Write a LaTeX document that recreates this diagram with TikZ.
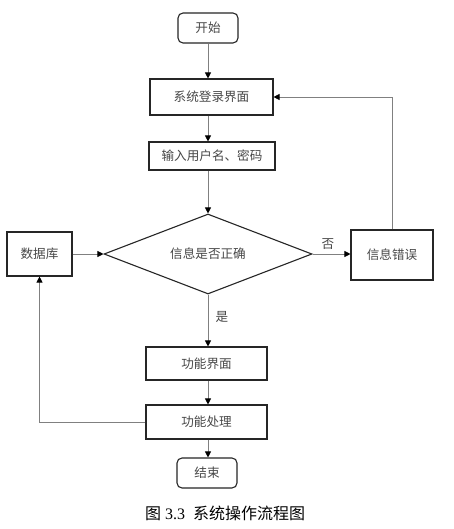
\documentclass[tikz,border=0pt]{standalone}
\usepackage{fontspec}
\setmainfont{Liberation Serif}
\newfontfamily\cjk{Noto Sans CJK SC}
\usetikzlibrary{shapes.geometric,arrows.meta}
\begin{document}
\begin{tikzpicture}[x=1pt,y=-1pt,
  box/.style={draw=black!85,line width=1.1pt,inner sep=0pt,text=black!72,font=\cjk\fontsize{12.6}{14}\selectfont},
  term/.style={box,rounded corners=5pt},
  flow/.style={draw=black!50,line width=0.8pt,-{Triangle[length=6pt,width=6pt,color=black]}},
  lbl/.style={text=black!72,font=\cjk\fontsize{12.6}{14}\selectfont}]
\useasboundingbox (0,0) rectangle (453,529);
\fill[white] (0,0) rectangle (453,529);
\node[term,minimum width=60pt,minimum height=30pt] (start) at (208,28) {开始};
\node[box,minimum width=123pt,minimum height=36pt] (login) at (211.5,97) {系统登录界面};
\node[box,minimum width=126pt,minimum height=28pt] (input) at (212,156) {输入用户名、密码};
\node[box,diamond,shape aspect=2.6,minimum width=208pt,minimum height=80pt] (check) at (208,254) {信息是否正确};
\node[box,minimum width=65pt,minimum height=44pt] (db) at (39.5,254) {数据库};
\node[box,minimum width=82pt,minimum height=50pt] (err) at (392,255) {信息错误};
\node[box,minimum width=121pt,minimum height=33pt] (func) at (206.5,363.5) {功能界面};
\node[box,minimum width=121pt,minimum height=34pt] (proc) at (206.5,422) {功能处理};
\node[term,minimum width=60pt,minimum height=30pt] (end) at (207,473) {结束};
\node[lbl] (yes) at (222,317) {是};
\node[lbl] (no) at (328,244) {否};
\node[font=\fontsize{16}{19}\selectfont,text=black] (cap) at (225,513) {{\cjk 图}~3.3~~{\cjk 系统操作流程图}};
\draw[flow] (start.south) -- (start.south |- login.north);
\draw[flow] (start.south |- login.south) -- (start.south |- input.north);
\draw[flow] (start.south |- input.south) -- (check.north);
\draw[flow] (db.east) -- (check.west);
\draw[flow] (check.east) -- (err.west |- check.east);
\draw[flow] (err.north) |- (login.east);
\draw[flow] (check.south) -- (check.south |- func.north);
\draw[flow] (check.south |- func.south) -- (check.south |- proc.north);
\draw[flow] (check.south |- proc.south) -- (check.south |- end.north);
\draw[flow] (proc.west) -| (db.south);
\end{tikzpicture}
\end{document}
